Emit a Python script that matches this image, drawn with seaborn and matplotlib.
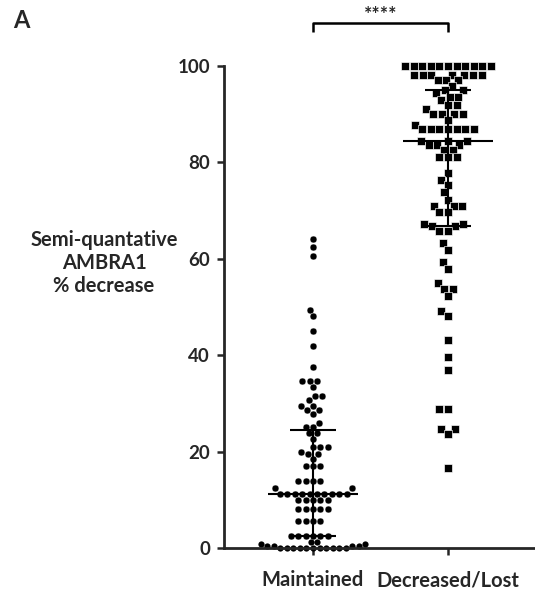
import numpy as np
import pandas as pd
import matplotlib
matplotlib.use("Agg")
import matplotlib.pyplot as plt
import seaborn as sns

categories = ["Maintained", "Decreased/Lost"]

maintained = [64.1, 62.4, 60.6, 49.4, 48.1, 45.1, 41.9, 37.6,
              34.6, 34.6, 34.6, 33.3, 31.6, 31.6, 30.7, 29.5, 29.5,
              28.6, 28.6, 27.7, 26.0, 25.2, 25.2, 23.8, 23.8, 22.6,
              21.0, 21.0, 21.0, 20.0, 19.5, 19.5, 18.5, 17.0, 17.0, 17.0,
              13.9, 13.9, 13.9, 13.9, 12.4, 12.4,
              11.3, 11.3, 11.3, 11.3, 11.3, 11.3, 11.3, 11.3, 11.3, 11.3,
              10.0, 10.0, 10.0, 10.0, 10.0, 8.0, 8.0, 8.0, 8.0, 8.0,
              5.5, 5.5, 5.5, 5.5, 2.5, 2.5, 2.5, 2.5, 2.5, 2.5,
              1.2, 1.2, 0.8, 0.8, 0.4, 0.4, 0.4, 0.4,
              0, 0, 0, 0, 0, 0, 0, 0, 0, 0, 0]

decreased = [100] * 11 + [98.2] * 7 + [97.0] * 3 + [95.8, 95.0, 95.0, 94.3,
             93.6, 93.6, 93.0, 91.9, 91.9, 91.0, 90.0, 90.0, 90.0, 90.0,
             88.8, 87.8] + [87.0] * 7 + [84.5, 84.5, 84.5, 83.7, 83.7, 83.7,
             82.6, 82.6, 81.1, 81.1, 81.1, 77.9, 76.3, 75.3, 73.8, 72.3,
             71.0, 71.0, 71.0, 69.7, 69.7, 67.2, 67.2, 66.8, 66.8, 65.8, 65.8,
             63.2, 61.8, 59.3, 57.9, 55.0, 53.7, 53.7, 52.2, 49.2, 48.1,
             43.2, 39.7, 36.9, 28.8, 28.8, 24.7, 24.7, 23.6, 16.7]

yticks = [0, 20, 40, 60, 80, 100]

m = np.array(maintained)
df_m_hi = pd.DataFrame({"group": categories[0], "value": m[m >= 2]})
df_m_lo = pd.DataFrame({"group": categories[0], "value": m[m < 2]})
df_d = pd.DataFrame({"group": categories[1], "value": decreased})

sns.set_theme(style="ticks")
plt.rcParams["font.family"] = ["Lato", "DejaVu Sans"]

fig = plt.figure(figsize=(5.35, 5.96), dpi=100)
ax = fig.add_axes([224 / 535, 1 - 548 / 596, 1 - 224 / 535, (548 - 66) / 596])

sns.swarmplot(data=df_m_hi, x="group", y="value", order=categories, marker="o",
              color="black", size=4.9, linewidth=0.2, edgecolor="white", ax=ax)
sns.swarmplot(data=df_m_lo, x="group", y="value", order=categories, marker="o",
              color="black", size=4.5, linewidth=0, ax=ax)
sns.swarmplot(data=df_d, x="group", y="value", order=categories, marker="s",
              color="black", size=5.45, linewidth=0.45, edgecolor="white",
              ax=ax)
for c in ax.collections:
    c.set_clip_on(False)

# median with interquartile range
for i, vals in enumerate([maintained, decreased]):
    q1, med, q3 = np.percentile(vals, [25, 50, 75])
    ax.vlines(i, q1, q3, color="black", lw=1.5, zorder=5, clip_on=False)
    ax.hlines(med, i - 0.33, i + 0.33, color="black", lw=1.5, zorder=5, clip_on=False)
    ax.hlines([q1, q3], i - 0.17, i + 0.17, color="black", lw=1.5, zorder=5, clip_on=False)

ax.set_xlim(-0.659, 1.644)
ax.set_ylim(0, 100)
ax.set_yticks(yticks)
ax.set_yticklabels([str(t) for t in yticks])
ax.set_xlabel("")
ax.set_ylabel("")
sns.despine(ax=ax)
for s in ["left", "bottom"]:
    ax.spines[s].set_linewidth(2.0)
    ax.spines[s].set_zorder(4)
ax.tick_params(axis="both", width=1.8, length=5)
ax.tick_params(axis="y", labelsize=13.5, pad=5)
ax.tick_params(axis="x", labelsize=14.5, pad=11)
for lab in ax.get_xticklabels() + ax.get_yticklabels():
    lab.set_fontweight("bold")

# significance bracket
ax.plot([0, 0, 1, 1], [107.0, 108.9, 108.9, 107.0], color="black", lw=1.8,
        clip_on=False, solid_capstyle="butt")
ax.text(0.5, 108.9, "****", ha="center", va="bottom", fontsize=14, fontweight="bold")

fig.text(104 / 535, 1 - 263 / 596, "Semi-quantative\nAMBRA1\n% decrease",
         ha="center", va="center", multialignment="center", fontsize=14.5,
         fontweight="bold", linespacing=1.18)
fig.text(13 / 535, 1 - 20 / 596, "A", ha="left", va="center", fontsize=17,
         fontweight="bold")

fig.savefig("out.png", dpi=100)
